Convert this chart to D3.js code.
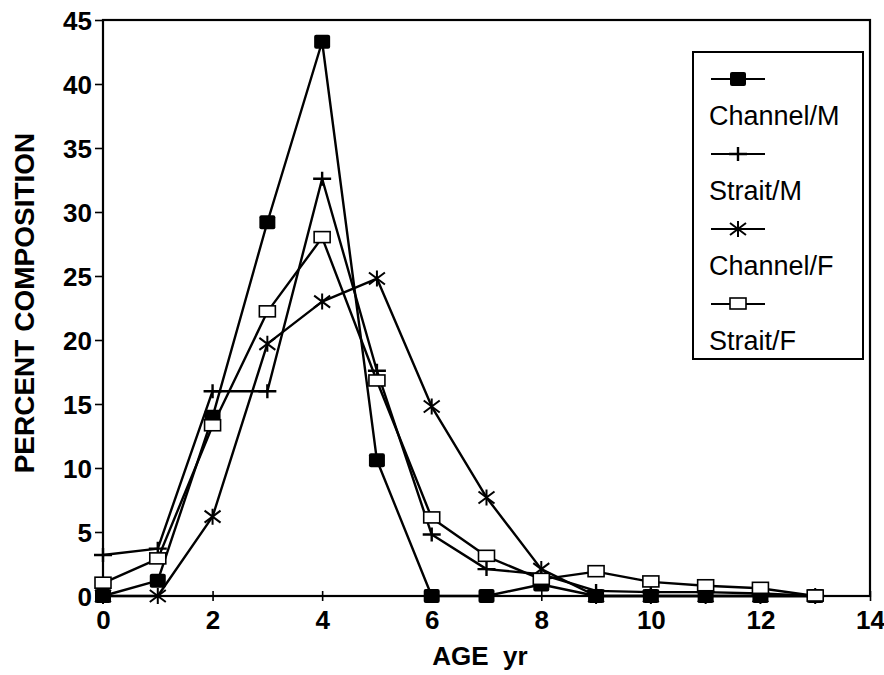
<!DOCTYPE html>
<html>
<head>
<meta charset="utf-8">
<script src="https://cdn.jsdelivr.net/npm/d3@7"></script>
<style>
  body { margin: 0; background: #fff; }
  text { font-family: 'Liberation Sans', Arial, sans-serif; fill: #000; }
</style>
</head>
<body>
<div id="chart"></div>
<script>
// ages in years
var ages = [0, 1, 2, 3, 4, 5, 6, 7, 8, 9, 10, 11, 12, 13];

// percent composition per age class
var channelM = [0, 1.2, 14, 29.2, 43.3, 10.6, 0, 0, 0.9, 0, 0, 0, 0, 0];
var straitM  = [3.2, 3.7, 16, 16, 32.6, 17.6, 4.8, 2.1, 1.7, 0.4, 0.3, 0.3, 0.2, 0];
var channelF = [0, 0, 6.2, 19.7, 23, 24.8, 14.8, 7.7, 2.1, 0, 0, 0, 0, 0];
var straitF  = [1, 2.9, 13.3, 22.2, 28, 16.8, 6.1, 3.1, 1.3, 1.9, 1.1, 0.8, 0.6, 0];

var seriesNames = ['Channel/M', 'Strait/M', 'Channel/F', 'Strait/F'];
var seriesValues = [channelM, straitM, channelF, straitF];
var seriesMarkers = ['filledSquare', 'plus', 'star', 'openSquare'];

var xTicks = [0, 2, 4, 6, 8, 10, 12, 14];
var yTicks = [0, 5, 10, 15, 20, 25, 30, 35, 40, 45];

var margin = {top: 20, right: 14, bottom: 79, left: 103};
var width = 884 - margin.left - margin.right,
    height = 675 - margin.top - margin.bottom;

var svg = d3.select('#chart').append('svg')
    .attr('width', 884)
    .attr('height', 675);

svg.append('rect')
    .attr('width', 884).attr('height', 675)
    .attr('fill', '#fff');

var g = svg.append('g')
    .attr('transform', `translate(${margin.left}, ${margin.top})`);

var xScale = d3.scaleLinear().domain([0, 14]).range([0, width]);
var yScale = d3.scaleLinear().domain([0, 45]).range([height, 0]);

// frame
g.append('rect')
    .attr('x', 0).attr('y', 0)
    .attr('width', width).attr('height', height)
    .attr('fill', 'none')
    .attr('stroke', '#000')
    .attr('stroke-width', 2.2);

// x axis
var xAxis = d3.axisBottom(xScale)
    .tickValues(xTicks)
    .tickSize(5)
    .tickPadding(10);

g.append('g')
    .attr('transform', `translate(0, ${height})`)
    .call(xAxis)
    .call(a => a.select('.domain').remove())
    .call(a => a.selectAll('.tick line').attr('y1', -5).attr('stroke-width', 1.6))
    .call(a => a.selectAll('.tick text')
        .style('font-size', '26px')
        .style('font-weight', 'bold')
        .style('font-family', "'Liberation Sans', Arial, sans-serif"));

// y axis
var yAxis = d3.axisLeft(yScale)
    .tickValues(yTicks)
    .tickSize(8)
    .tickPadding(3);

g.append('g')
    .call(yAxis)
    .call(a => a.select('.domain').remove())
    .call(a => a.selectAll('.tick line').attr('stroke-width', 1.6))
    .call(a => a.selectAll('.tick text')
        .attr('dy', '0.36em')
        .style('font-size', '26px')
        .style('font-weight', 'bold')
        .style('font-family', "'Liberation Sans', Arial, sans-serif"));

// axis titles
svg.append('text')
    .attr('x', 480)
    .attr('y', 665)
    .attr('text-anchor', 'middle')
    .style('font-size', '26px')
    .style('font-weight', 'bold')
    .attr('xml:space', 'preserve')
    .text('AGE  yr');

svg.append('text')
    .attr('transform', 'translate(34, 303) rotate(-90)')
    .attr('text-anchor', 'middle')
    .style('font-size', '28px')
    .style('font-weight', 'bold')
    .text('PERCENT COMPOSITION');

// markers
function drawMarker(sel, type, x, y) {
    if (type == 'filledSquare') {
        sel.append('rect')
            .attr('x', x - 8).attr('y', y - 7)
            .attr('width', 16).attr('height', 14)
            .attr('rx', 2)
            .attr('fill', '#000');
    } else if (type == 'plus') {
        sel.append('path')
            .attr('d', `M${x - 9},${y}H${x + 9}M${x},${y - 7}V${y + 7}`)
            .attr('stroke', '#000').attr('stroke-width', 2.4).attr('fill', 'none');
    } else if (type == 'star') {
        sel.append('path')
            .attr('d', `M${x - 8},${y - 6}L${x + 8},${y + 6}M${x - 8},${y + 6}L${x + 8},${y - 6}M${x},${y - 8}V${y + 8}`)
            .attr('stroke', '#000').attr('stroke-width', 2).attr('fill', 'none');
    } else {
        sel.append('rect')
            .attr('x', x - 8).attr('y', y - 6)
            .attr('width', 16).attr('height', 11)
            .attr('fill', '#fff')
            .attr('stroke', '#000').attr('stroke-width', 1.6);
    }
}

var line = d3.line()
    .x((d, i) => xScale(ages[i]))
    .y(d => yScale(d));

seriesValues.forEach((values, index) => {
    var gLine = g.append('g');

    gLine.append('path')
        .datum(values)
        .attr('d', line)
        .attr('fill', 'none')
        .attr('stroke', '#000')
        .attr('stroke-width', 2.4)
        .attr('stroke-linejoin', 'round');

    values.forEach((v, i) => {
        drawMarker(gLine, seriesMarkers[index], xScale(ages[i]), yScale(v));
    });
});

// legend
var legend = svg.append('g').attr('transform', 'translate(693, 52)');

legend.append('rect')
    .attr('width', 170).attr('height', 307)
    .attr('fill', '#fff')
    .attr('stroke', '#000')
    .attr('stroke-width', 2);

seriesNames.forEach((name, index) => {
    var ly = 27 + index * 75;
    legend.append('line')
        .attr('x1', 18).attr('x2', 72)
        .attr('y1', ly).attr('y2', ly)
        .attr('stroke', '#000')
        .attr('stroke-width', 2);
    drawMarker(legend, seriesMarkers[index], 45, ly);
    legend.append('text')
        .attr('x', 16)
        .attr('y', ly + 46)
        .style('font-size', '27px')
        .text(name);
});
</script>
</body>
</html>
